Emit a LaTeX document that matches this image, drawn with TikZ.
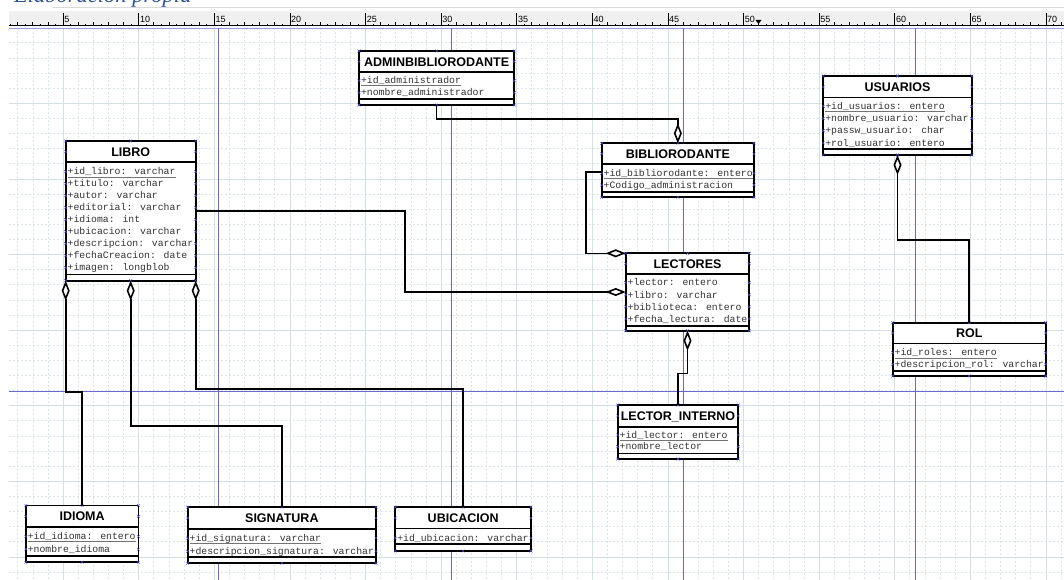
\documentclass[tikz,border=0pt]{standalone}
\usepackage{fontspec}
\setmainfont{Liberation Serif}
\newfontfamily\monof{Liberation Mono}
\newfontfamily\sansf{Liberation Sans}
\newfontfamily\serff{Liberation Serif}
\usetikzlibrary{arrows.meta,fit}
\definecolor{gridminor}{HTML}{DCE6EA}
\definecolor{gridmajor}{HTML}{D3E0E4}
\definecolor{guideblue}{HTML}{6A6AD2}
\definecolor{topblue}{HTML}{9A9AE6}
\definecolor{handleblue}{HTML}{4B4BD8}
\definecolor{captionblue}{HTML}{2E5496}
\definecolor{rulerbg}{HTML}{F0F0F0}
\definecolor{capline}{HTML}{DADADA}
\tikzset{
  umlframe/.style={draw=black, line width=1.8pt, inner sep=0pt, outer sep=0pt, fill=white},
  sepline/.style={draw=black, line width=1.6pt},
  umltitle/.style={font=\sansf\bfseries\fontsize{12.5}{14}\selectfont, inner sep=0pt, anchor=base},
  umlattr/.style={font=\monof\fontsize{9.8}{12}\selectfont, inner sep=0pt, anchor=base west, text=black!80},
  pkline/.style={draw=black!55, line width=0.8pt},
  conn/.style={draw=black, line width=1.6pt},
  aggstart/.style={conn, {Diamond[fill=white,length=20pt,width=8pt]}-},
  aggend/.style={conn, -{Diamond[fill=white,length=20pt,width=8pt]}},
  handle/.style={draw=handleblue, line width=0.4pt},
  guide/.style={draw=guideblue, line width=0.9pt},
  minorgrid/.style={draw=gridminor, line width=0.5pt, dash pattern=on 2pt off 2pt},
  majorgrid/.style={draw=gridmajor, line width=0.6pt},
  rulertick/.style={draw=black, line width=0.6pt},
  rulerlabel/.style={font=\sansf\fontsize{9}{10}\selectfont, inner sep=0pt, anchor=base west},
  captiontext/.style={font=\serff\itshape\fontsize{22.5}{26}\selectfont, text=captionblue, inner sep=0pt, anchor=base west}
}
\newcommand\hmark[2]{\draw[handle] (#1,#2) ++(-1.4,-1.4) -- ++(2.8,2.8) ++(-2.8,0) -- ++(2.8,-2.8);}
% #1 name #2 left #3 top #4 right #5 title sep #6 attr sep #7 bottom #8 title
\newcommand\umlbox[8]{%
  \coordinate (#1-nw) at (#2,#3);
  \coordinate (#1-se) at (#4,#7);
  \node[umlframe, fit=(#1-nw)(#1-se)] (#1) {};
  \draw[sepline] (#2,#5) -- (#4,#5) (#2,#6) -- (#4,#6);
  \node[umltitle] (#1-title) at ({(#2+#4)/2},{(#3+#5)/2+4.4}) {#8};
  \def\ubl{#2}\def\ubr{#4}%
  \hmark{#2}{#3}\hmark{{(#2+#4)/2}}{#3}\hmark{#4}{#3}%
  \hmark{#2}{#7}\hmark{{(#2+#4)/2}}{#7}\hmark{#4}{#7}%
  \hmark{#2}{{(#3+#5)/2}}\hmark{#4}{{(#3+#5)/2}}%
}
\newcommand\att[3]{%
  \node[umlattr] (#1) at ({\ubl+1.8},{#2+3.2}) {#3};
  \hmark{\ubl}{#2}\hmark{\ubr}{#2}%
}
\newcommand\pkatt[3]{%
  \att{#1}{#2}{#3}%
  \draw[pkline] ([yshift=-2pt]#1.base west) -- ([yshift=-2pt]#1.base east);%
}
\begin{document}
\begin{tikzpicture}[x=1pt,y=-1pt]
\useasboundingbox (0,0) rectangle (1064,580);
\clip (0,0) rectangle (1064,580);
\fill[white] (0,0) rectangle (1064,580);
% caption
\node[captiontext] (cap) at (14,3) {Elaboración propia};
\draw[capline, line width=1.5pt] (53,7.3) -- (1064,7.3);
% ruler
\fill[rulerbg] (8.6,11.5) rectangle (1064,25.8);
\foreach \n in {2,...,71}{\pgfmathsetmacro\rx{-12.6+15.12*\n}\draw[rulertick] (\rx,25.8) -- (\rx,22.3);}
\foreach \n in {1,...,70}{\pgfmathsetmacro\rx{-12.6+15.12*\n+7.56}\draw[rulertick] (\rx,25.8) -- (\rx,24.2);}
\foreach \n in {5,10,...,70}{\pgfmathsetmacro\rx{-12.6+15.12*\n}
  \draw[rulertick] (\rx,25.8) -- (\rx,13.5);
  \node[rulerlabel] (rl\n) at ({\rx+1.2},22.6) {\n};}
\draw[black, line width=0.9pt] (8.6,25.8) -- (1064,25.8);
\fill[black] (755.3,19.8) -- (761.7,19.8) -- (758.5,24) -- cycle;
% grid
\foreach \n in {2,...,71}{\pgfmathsetmacro\gx{-12.6+15.12*\n}\draw[minorgrid] (\gx,28.5) -- (\gx,580);}
\foreach \m in {1,...,36}{\pgfmathsetmacro\gy{27.6+15.12*\m}\draw[minorgrid] (8.6,\gy) -- (1064,\gy);}
\foreach \n in {5,10,...,70}{\pgfmathsetmacro\gx{-12.6+15.12*\n}\draw[majorgrid] (\gx,28.5) -- (\gx,580);}
\foreach \m in {5,10,...,35}{\pgfmathsetmacro\gy{27.6+15.12*\m}\draw[majorgrid] (8.6,\gy) -- (1064,\gy);}
% guides
\draw[topblue, line width=1pt] (8.6,28.5) -- (1064,28.5);
\foreach \gx in {218.7,451,683.3,915}{\draw[guide] (\gx,28.5) -- (\gx,580);}
\draw[guide] (8.6,391.7) -- (1064,391.7);
% boxes
\umlbox{admin}{359}{51}{514.3}{72.3}{99.3}{105}{ADMINBIBLIORODANTE}
\pkatt{admin-a1}{80.7}{+id\_administrador}
\att{admin-a2}{92.7}{+nombre\_administrador}

\umlbox{bib}{601.7}{143.3}{754}{164.3}{191.7}{197.3}{BIBLIORODANTE}
\pkatt{bib-a1}{173.3}{+id\_bibliorodante: entero}
\att{bib-a2}{185}{+Codigo\_administracion}

\umlbox{usu}{823.3}{76}{971.7}{97.7}{149.3}{155}{USUARIOS}
\pkatt{usu-a1}{106.3}{+id\_usuarios: entero}
\att{usu-a2}{118.5}{+nombre\_usuario: varchar}
\att{usu-a3}{130.7}{+passw\_usuario: char}
\att{usu-a4}{142.9}{+rol\_usuario: entero}

\umlbox{libro}{65.7}{141}{195.7}{162.3}{274.3}{280.7}{LIBRO}
\pkatt{libro-a1}{171.7}{+id\_libro: varchar}
\att{libro-a2}{183.7}{+titulo: varchar}
\att{libro-a3}{195.7}{+autor: varchar}
\att{libro-a4}{207.7}{+editorial: varchar}
\att{libro-a5}{219.7}{+idioma: int}
\att{libro-a6}{231.7}{+ubicacion: varchar}
\att{libro-a7}{243.7}{+descripcion: varchar}
\att{libro-a8}{255.7}{+fechaCreacion: date}
\att{libro-a9}{267.7}{+imagen: longblob}

\umlbox{lect}{625.7}{253.3}{749.3}{274}{326}{330.7}{LECTORES}
\att{lect-a1}{282.7}{+lector: entero}
\att{lect-a2}{294.8}{+libro: varchar}
\att{lect-a3}{306.8}{+biblioteca: entero}
\att{lect-a4}{318.9}{+fecha\_lectura: date}

\umlbox{rol}{892.7}{322.7}{1045.7}{343.3}{371}{376}{ROL}
\pkatt{rol-a1}{352.7}{+id\_roles: entero}
\att{rol-a2}{364.3}{+descripcion\_rol: varchar}

\umlbox{li}{617.7}{405}{738.3}{426.7}{453.3}{459}{LECTOR\_INTERNO}
\pkatt{li-a1}{435}{+id\_lector: entero}
\att{li-a2}{446.7}{+nombre\_lector}

\umlbox{idioma}{25.8}{505.5}{138.4}{527.2}{556.1}{562.3}{IDIOMA}
\pkatt{idioma-a1}{536.5}{+id\_idioma: entero}
\att{idioma-a2}{549.2}{+nombre\_idioma}

\umlbox{sig}{187.7}{507.2}{376}{528.9}{557.1}{563.3}{SIGNATURA}
\pkatt{sig-a1}{538.2}{+id\_signatura: varchar}
\att{sig-a2}{551.3}{+descripcion\_signatura: varchar}

\umlbox{ubi}{395.3}{507.2}{531}{528.6}{544}{551}{UBICACION}
\att{ubi-a1}{538.2}{+id\_ubicacion: varchar}

% connectors
\draw[aggend] (admin.south) -- ++(0,14) -| (bib.north);
\draw[aggend] ([yshift=-2pt]bib.west) -- ++(-16,0) |- (lect.north west);
\draw[aggend] (libro.east) -- ++(209.3,0) |- (lect.west);
\draw[aggstart] (libro.south west) -- ++(0,111) -| (idioma.north);
\draw[aggstart] (libro.south) -- ++(0,145) -| (sig.north);
\draw[aggstart] (libro.south east) -- ++(0,108.5) -| (ubi.north);
\draw[aggstart] (lect.south) -- ++(0,42.6) -| (li.north);
\draw[aggstart] (usu.south) -- ++(0,85) -| (rol.north);
\end{tikzpicture}
\end{document}
